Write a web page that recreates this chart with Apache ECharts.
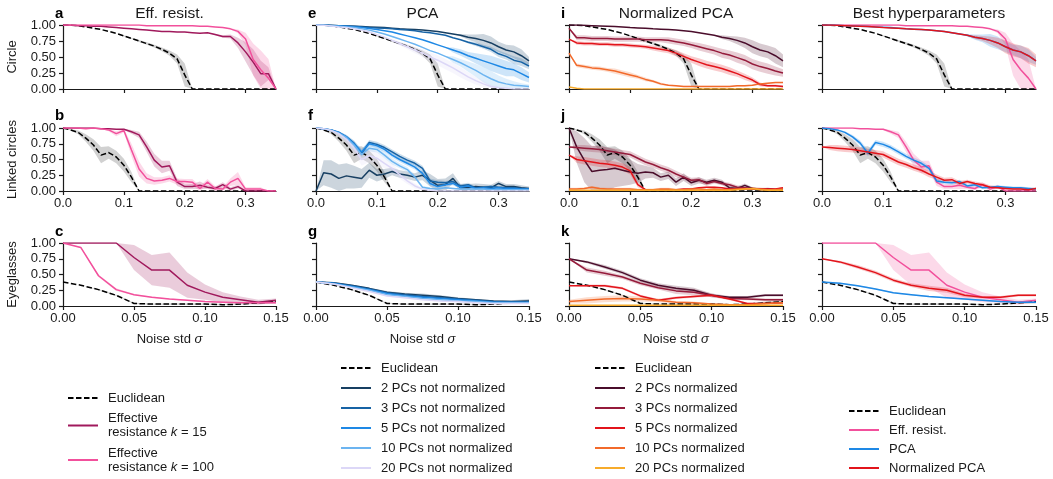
<!DOCTYPE html>
<html><head><meta charset="utf-8">
<script src="https://cdn.jsdelivr.net/npm/echarts@6/dist/echarts.min.js"></script>
<style>html,body{margin:0;padding:0;background:#fff}#c{width:1053px;height:479px}</style>
</head><body><div id="c"></div>
<script>
// ---------- noise levels & ticks ----------
const sigmaWide = [0,0.0125,0.025,0.0375,0.05,0.0625,0.075,0.0875,0.1,0.1125,0.125,0.1375,0.15,0.1625,0.175,0.1875,0.2,0.2125,0.225,0.2375,0.25,0.2625,0.275,0.2875,0.3,0.3125,0.325,0.3375,0.35];
const sigmaNarrow = [0,0.0125,0.025,0.0375,0.05,0.0625,0.075,0.0875,0.1,0.1125,0.125,0.1375,0.15];
const xTicksWide = [0,0.1,0.2,0.3];
const xTicksNarrow = [0,0.05,0.1,0.15];
const yTicks = [0,0.25,0.5,0.75,1];
const rowNames = ['Circle','Linked circles','Eyeglasses'];
const colTitles = ['Eff. resist.','PCA','Normalized PCA','Best hyperparameters'];
const panelLetters = [['a','e','i'],['b','f','j'],['c','g','k']];

// ---------- Circle ----------
const circleEuclid   = [1,0.995,0.99,0.97,0.95,0.93,0.9,0.87,0.83,0.79,0.75,0.71,0.67,0.62,0.56,0.47,0.22,0,0,0,0,0,0,0,0,0,0,0,0];
const circleEuclidSd = [0,0,0,0,0,0,0,0,0.01,0.01,0.015,0.02,0.02,0.03,0.04,0.07,0.18,0,0,0,0,0,0,0,0,0,0,0,0];
const circleK15   = [1,1,0.99,0.99,0.98,0.98,0.97,0.96,0.95,0.94,0.93,0.92,0.91,0.9,0.9,0.89,0.89,0.88,0.87,0.88,0.85,0.82,0.82,0.72,0.58,0.42,0.24,0.24,0];
const circleK15Sd = [0,0,0,0,0,0,0,0,0,0,0,0,0,0,0,0,0,0,0,0,0.01,0.02,0.03,0.08,0.15,0.2,0.2,0.1,0];
const circleK100   = [1,1,1,1,1,1,1,1,1,1,1,0.99,0.99,0.99,0.99,0.99,0.99,0.99,0.98,0.98,0.97,0.96,0.94,0.9,0.78,0.46,0.3,0.17,0];
const circleK100Sd = [0,0,0,0,0,0,0,0,0,0,0,0,0,0,0,0,0,0,0,0,0,0,0.01,0.03,0.1,0.25,0.3,0.3,0];
const circlePca2   = [1,1,0.995,0.99,0.985,0.98,0.975,0.97,0.965,0.96,0.95,0.94,0.935,0.93,0.92,0.91,0.9,0.88,0.86,0.84,0.81,0.79,0.76,0.72,0.66,0.61,0.58,0.52,0.44];
const circlePca2Sd = [0,0,0,0,0,0,0,0,0,0,0,0,0,0,0,0,0,0,0,0.02,0.04,0.06,0.1,0.1,0.08,0.08,0.1,0.1,0.06];
const circlePca3   = [1,1,0.995,0.99,0.985,0.98,0.97,0.96,0.955,0.95,0.94,0.93,0.92,0.91,0.89,0.88,0.86,0.84,0.8,0.77,0.73,0.7,0.66,0.62,0.55,0.51,0.45,0.42,0.36];
const circlePca3Sd = [0,0,0,0,0,0,0,0,0,0,0,0,0,0,0,0,0,0,0,0,0.02,0.03,0.03,0.04,0.05,0.05,0.06,0.06,0.05];
const circlePca5   = [1,1,0.99,0.985,0.98,0.97,0.96,0.945,0.93,0.91,0.89,0.86,0.83,0.8,0.77,0.73,0.69,0.65,0.61,0.57,0.52,0.48,0.44,0.4,0.36,0.32,0.3,0.24,0.18];
const circlePca5Sd = [0,0,0,0,0,0,0,0,0,0,0,0,0,0,0,0,0,0,0.04,0.05,0.06,0.08,0.1,0.12,0.12,0.12,0.1,0.1,0.08];
const circlePca10   = [1,1,0.99,0.98,0.97,0.96,0.94,0.92,0.89,0.86,0.82,0.78,0.74,0.7,0.65,0.6,0.56,0.51,0.46,0.41,0.35,0.29,0.22,0.16,0.11,0.08,0.06,0.05,0.04];
const circlePca10Sd = [0,0,0,0,0,0,0,0,0,0,0,0,0,0,0,0,0,0,0.05,0.06,0.08,0.1,0.12,0.12,0.1,0.08,0.06,0.04,0.03];
const circlePca20   = [1,0.995,0.985,0.97,0.96,0.94,0.92,0.89,0.85,0.81,0.76,0.71,0.66,0.61,0.56,0.5,0.45,0.39,0.33,0.26,0.19,0.13,0.08,0.04,0.02,0.01,0,0,0];
const circlePca20Sd = [0,0,0,0,0,0,0,0,0,0,0.02,0.03,0.04,0.05,0.06,0.07,0.08,0.08,0.08,0.08,0.07,0.06,0.05,0.03,0.02,0.01,0,0,0];
const circleNpca2   = [1,1,0.995,0.99,0.985,0.98,0.975,0.97,0.96,0.955,0.95,0.94,0.935,0.93,0.92,0.91,0.9,0.88,0.86,0.84,0.81,0.79,0.76,0.72,0.66,0.61,0.58,0.52,0.44];
const circleNpca2Sd = [0,0,0,0,0,0,0,0,0,0,0,0,0,0,0,0,0,0,0,0,0.03,0.04,0.06,0.08,0.1,0.1,0.1,0.12,0.1];
const circleNpca3   = [0.95,0.8,0.8,0.79,0.79,0.79,0.78,0.78,0.78,0.78,0.77,0.77,0.77,0.76,0.74,0.72,0.69,0.66,0.63,0.6,0.56,0.53,0.49,0.45,0.39,0.35,0.32,0.28,0.25];
const circleNpca3Sd = [0,0.04,0.04,0.04,0.04,0.04,0.04,0.04,0.04,0.04,0.04,0.04,0.04,0.05,0.05,0.05,0.05,0.06,0.06,0.06,0.07,0.07,0.08,0.08,0.08,0.08,0.08,0.07,0.06];
const circleNpca5   = [0.78,0.72,0.71,0.71,0.7,0.7,0.69,0.69,0.68,0.67,0.66,0.64,0.62,0.6,0.56,0.51,0.46,0.42,0.38,0.35,0.32,0.28,0.24,0.19,0.14,0.07,0.05,0.05,0.04];
const circleNpca5Sd = [0,0.03,0.03,0.03,0.03,0.03,0.03,0.03,0.03,0.03,0.03,0.04,0.04,0.04,0.05,0.05,0.05,0.06,0.06,0.06,0.06,0.06,0.05,0.05,0.04,0.03,0.02,0.02,0.02];
const circleNpca10   = [0.56,0.37,0.35,0.33,0.32,0.3,0.28,0.25,0.22,0.19,0.15,0.12,0.08,0.06,0.05,0.04,0.04,0.04,0.04,0.04,0.04,0.04,0.05,0.05,0.06,0.08,0.09,0.1,0.1];
const circleNpca10Sd = [0,0.03,0.03,0.03,0.03,0.03,0.04,0.04,0.04,0.03,0.03,0.02,0.02,0.01,0.01,0.01,0.01,0.01,0.01,0.01,0.01,0.01,0.01,0.01,0.01,0.01,0.01,0.01,0.01];
const circleNpca20   = [0.03,0.01,0,0,0,0,0,0,0,0,0,0,0,0,0,0,0,0,0,0,0,0,0,0,0,0,0,0,0];

// ---------- Linked circles ----------
const linkedEuclid   = [1,0.97,0.93,0.84,0.73,0.57,0.61,0.54,0.41,0.22,0,0,0,0,0,0,0,0,0,0,0,0,0,0,0,0,0,0,0];
const linkedEuclidSd = [0,0.01,0.03,0.06,0.09,0.13,0.1,0.1,0.1,0.08,0,0,0,0,0,0,0,0,0,0,0,0,0,0,0,0,0,0,0];
const linkedK15   = [1,1,1,1,1,0.99,0.99,0.98,0.98,0.94,0.89,0.7,0.49,0.38,0.4,0.14,0.07,0.07,0.09,0.06,0.04,0.1,0.03,0.07,0,0,0,0,0];
const linkedK15Sd = [0,0,0,0,0,0,0,0,0.01,0.03,0.05,0.08,0.1,0.1,0.08,0.06,0.04,0.04,0.06,0.03,0.03,0.04,0.03,0.03,0,0,0,0,0];
const linkedK100   = [1,1,1,0.99,1,0.99,0.97,0.91,0.96,0.65,0.35,0.2,0.16,0.17,0.2,0.15,0.15,0.14,0.04,0.14,0.04,0.03,0.14,0.2,0.03,0.03,0.03,0,0];
const linkedK100Sd = [0,0,0,0,0,0,0.02,0.04,0.03,0.1,0.12,0.08,0.06,0.05,0.05,0.05,0.04,0.05,0.04,0.05,0.04,0.03,0.06,0.1,0.03,0.03,0.03,0,0];
const linkedPca2   = [0,0.29,0.27,0.2,0.24,0.22,0.2,0.33,0.25,0.27,0.31,0.27,0.25,0.22,0.25,0.17,0.09,0.1,0.2,0.05,0.05,0.07,0.06,0.05,0.12,0.07,0.07,0.05,0.04];
const linkedPca2Sd = [0,0.2,0.22,0.22,0.2,0.18,0.15,0.12,0.1,0.08,0.06,0.06,0.06,0.06,0.08,0.1,0.1,0.1,0.08,0.06,0.06,0.05,0.05,0.05,0.04,0.04,0.04,0.04,0.03];
const linkedPca3   = [1,0.99,0.97,0.93,0.86,0.76,0.6,0.77,0.74,0.69,0.62,0.55,0.49,0.44,0.36,0.16,0.14,0.13,0.15,0.08,0.1,0.05,0.06,0.07,0.06,0.05,0.05,0.04,0.03];
const linkedPca3Sd = [0,0,0.01,0.02,0.03,0.04,0.05,0.04,0.04,0.04,0.04,0.04,0.04,0.04,0.04,0.04,0.03,0.03,0.03,0.03,0.03,0.02,0.02,0.02,0.02,0.02,0.02,0.02,0.02];
const linkedPca5   = [1,0.99,0.97,0.93,0.86,0.75,0.62,0.75,0.72,0.66,0.57,0.5,0.44,0.38,0.28,0.12,0.07,0.1,0.12,0.06,0.08,0.04,0.05,0.04,0.05,0.04,0.04,0.03,0.03];
const linkedPca5Sd = [0,0,0.01,0.02,0.03,0.04,0.05,0.04,0.04,0.04,0.04,0.04,0.04,0.04,0.04,0.04,0.03,0.03,0.03,0.03,0.03,0.02,0.02,0.02,0.02,0.02,0.02,0.02,0.02];
const linkedPca10   = [1,0.99,0.96,0.92,0.85,0.73,0.58,0.68,0.66,0.57,0.47,0.4,0.34,0.22,0.06,0.04,0.03,0.05,0.04,0.03,0.03,0.03,0.03,0.02,0.02,0.02,0.02,0.02,0.02];
const linkedPca10Sd = [0,0,0.01,0.02,0.03,0.04,0.05,0.05,0.05,0.05,0.05,0.04,0.04,0.03,0.02,0.02,0.01,0.01,0.01,0.01,0.01,0.01,0.01,0.01,0.01,0.01,0.01,0.01,0.01];
const linkedPca20   = [1,0.99,0.96,0.91,0.82,0.68,0.5,0.56,0.52,0.44,0.36,0.26,0.16,0.08,0.03,0.01,0,0,0,0,0,0,0,0,0,0,0,0,0];
const linkedPca20Sd = [0,0,0.02,0.04,0.06,0.08,0.1,0.1,0.1,0.08,0.07,0.06,0.05,0.04,0.02,0.01,0,0,0,0,0,0,0,0,0,0,0,0,0];
const linkedNpca2   = [1,0.7,0.49,0.31,0.33,0.34,0.36,0.33,0.3,0.28,0.3,0.29,0.22,0.25,0.14,0.22,0.13,0.17,0.14,0.17,0.14,0.05,0.04,0.09,0.04,0.02,0.03,0.02,0.02];
const linkedNpca2Sd = [0,0.25,0.35,0.4,0.4,0.35,0.3,0.25,0.2,0.15,0.1,0.08,0.06,0.06,0.06,0.06,0.05,0.05,0.04,0.04,0.04,0.03,0.03,0.03,0.02,0.02,0.02,0.02,0.02];
const linkedNpca3   = [0.7,0.69,0.68,0.67,0.66,0.64,0.62,0.6,0.58,0.52,0.46,0.42,0.37,0.33,0.27,0.22,0.17,0.18,0.12,0.15,0.12,0.1,0.06,0.05,0.04,0.03,0.03,0.02,0.04];
const linkedNpca3Sd = [0,0.04,0.05,0.05,0.05,0.05,0.05,0.05,0.05,0.05,0.05,0.05,0.05,0.05,0.05,0.04,0.04,0.04,0.04,0.03,0.03,0.03,0.03,0.02,0.02,0.02,0.02,0.02,0.02];
const linkedNpca5   = [0.57,0.5,0.48,0.46,0.44,0.43,0.41,0.38,0.32,0.1,0.02,0.02,0.02,0.02,0.02,0.03,0.03,0.05,0.06,0.06,0.05,0.03,0.03,0.04,0.03,0.03,0.03,0.03,0.05];
const linkedNpca5Sd = [0,0.05,0.06,0.06,0.06,0.06,0.06,0.06,0.06,0.04,0.01,0,0,0,0,0,0,0.01,0.01,0.01,0.01,0.01,0.01,0.01,0.01,0.01,0.01,0.01,0.01];
const linkedNpca10   = [0.03,0.03,0.04,0.06,0.04,0.03,0.03,0.03,0.03,0.02,0.02,0.02,0.03,0.03,0.02,0.02,0.03,0.03,0.02,0.03,0.02,0.02,0.03,0.03,0.04,0.03,0.02,0.02,0.03];
const linkedNpca10Sd = [0.02,0.02,0.02,0.02,0.02,0.02,0.02,0.02,0.02,0.02,0.02,0.02,0.02,0.02,0.02,0.02,0.02,0.02,0.02,0.02,0.02,0.02,0.02,0.02,0.02,0.02,0.02,0.02,0.02];
const linkedNpca20   = [0.01,0.01,0.01,0.01,0.01,0.01,0.01,0.01,0.01,0.01,0.01,0.01,0.01,0.01,0.01,0.01,0.01,0.01,0.01,0.01,0.01,0.01,0.02,0.03,0.04,0.02,0.01,0.01,0.01];

// ---------- Eyeglasses ----------
const eyeEuclid   = [0.38,0.33,0.26,0.17,0.04,0.03,0.03,0.03,0.03,0.02,0.03,0.05,0.07];
const eyeEuclidSd = [0,0,0.01,0.01,0.01,0.01,0.015,0.015,0.015,0.01,0.01,0.02,0.03];
const eyeK15   = [1,1,1,1,0.77,0.57,0.57,0.33,0.22,0.14,0.1,0.06,0.09];
const eyeK15Sd = [0,0,0,0,0.2,0.24,0.28,0.2,0.12,0.08,0.05,0.04,0.03];
const eyeK100   = [1,0.93,0.48,0.26,0.18,0.14,0.11,0.09,0.07,0.06,0.05,0.05,0.05];
const eyeK100Sd = [0,0.01,0.02,0.02,0.01,0.01,0.01,0.01,0.01,0.01,0.01,0.01,0.01];
const eyePca2   = [0.38,0.37,0.33,0.28,0.22,0.19,0.17,0.15,0.12,0.1,0.08,0.07,0.08];
const eyePca2Sd = [0,0.01,0.01,0.01,0.02,0.02,0.03,0.02,0.02,0.01,0.01,0.02,0.03];
const eyePca3   = [0.38,0.36,0.32,0.27,0.21,0.18,0.15,0.13,0.11,0.09,0.07,0.06,0.06];
const eyePca5   = [0.38,0.36,0.31,0.26,0.2,0.16,0.14,0.12,0.1,0.08,0.06,0.06,0.06];
const eyePca10  = [0.38,0.35,0.3,0.25,0.18,0.15,0.12,0.1,0.08,0.07,0.05,0.05,0.05];
const eyePca20  = [0.38,0.35,0.29,0.23,0.16,0.13,0.1,0.08,0.07,0.05,0.04,0.04,0.04];
const eyePcaSd  = [0,0.01,0.01,0.01,0.01,0.01,0.01,0.01,0.01,0.01,0.01,0.01,0.01];
const eyeNpca2   = [0.75,0.7,0.62,0.53,0.41,0.33,0.28,0.25,0.17,0.14,0.14,0.17,0.17];
const eyeNpca2Sd = [0,0.02,0.03,0.03,0.03,0.03,0.04,0.04,0.03,0.02,0.02,0.02,0.02];
const eyeNpca3   = [0.75,0.57,0.52,0.46,0.36,0.29,0.24,0.22,0.17,0.12,0.11,0.1,0.1];
const eyeNpca3Sd = [0,0.04,0.04,0.03,0.03,0.03,0.05,0.05,0.03,0.02,0.02,0.02,0.02];
const eyeNpca5   = [0.32,0.32,0.32,0.28,0.16,0.09,0.13,0.15,0.17,0.11,0.04,0.04,0.05];
const eyeNpca5Sd = [0,0.02,0.02,0.02,0.02,0.02,0.02,0.02,0.02,0.02,0.01,0.01,0.01];
const eyeNpca10   = [0.07,0.09,0.11,0.12,0.11,0.09,0.06,0.05,0.03,0.02,0.02,0.04,0.05];
const eyeNpca10Sd = [0.03,0.05,0.05,0.05,0.04,0.03,0.02,0.02,0.01,0.01,0.01,0.02,0.02];
const eyeNpca20   = [0.01,0.01,0.01,0.01,0.01,0.01,0.01,0.01,0.01,0.01,0.01,0.01,0.01];

// ---------- styling ----------
const FONT = '"Liberation Sans", Arial, Helvetica, sans-serif';
const INK = '#1a1a1a';
const COL = {
  euclid:'#000000', k15:'#a0195c', k100:'#f2509c',
  pca:['#173f62','#1763a5','#1e88e5','#6cb4f0','#dcd7f7'],
  npca:['#4a0d2b','#951b3b','#e2141b','#f26a2b','#f7ab2b']
};
const colLeft = [63,316,569,822], colWidth = [213,213,214,214];
const rowTop = [25,128,243], rowHeight = [64,63,63];

const N = {
  e:'Euclidean', k15:'Effective resistance k = 15', k100:'Effective resistance k = 100',
  pca:['2 PCs not normalized','3 PCs not normalized','5 PCs not normalized','10 PCs not normalized','20 PCs not normalized'],
  npca:['2 PCs normalized','3 PCs normalized','5 PCs normalized','10 PCs normalized','20 PCs normalized'],
  bEff:'Eff. resist.', bPca:'PCA', bNpca:'Normalized PCA'
};

function E(v,s){return {n:N.e,c:COL.euclid,v,s,dash:true,band:'#7a7a7a',bo:0.35};}
function L(n,c,v,s){return {n,c,v,s,band:c,bo:0.22};}

const rows = [
 {sigma:sigmaWide, panels:[
   [E(circleEuclid,circleEuclidSd), L(N.k15,COL.k15,circleK15,circleK15Sd), L(N.k100,COL.k100,circleK100,circleK100Sd)],
   [E(circleEuclid,circleEuclidSd), L(N.pca[0],COL.pca[0],circlePca2,circlePca2Sd), L(N.pca[1],COL.pca[1],circlePca3,circlePca3Sd), L(N.pca[2],COL.pca[2],circlePca5,circlePca5Sd), L(N.pca[3],COL.pca[3],circlePca10,circlePca10Sd), L(N.pca[4],COL.pca[4],circlePca20,circlePca20Sd)],
   [E(circleEuclid,circleEuclidSd), L(N.npca[0],COL.npca[0],circleNpca2,circleNpca2Sd), L(N.npca[1],COL.npca[1],circleNpca3,circleNpca3Sd), L(N.npca[2],COL.npca[2],circleNpca5,circleNpca5Sd), L(N.npca[3],COL.npca[3],circleNpca10,circleNpca10Sd), L(N.npca[4],COL.npca[4],circleNpca20,null)],
   [E(circleEuclid,circleEuclidSd), L(N.bEff,COL.k100,circleK100,circleK100Sd), L(N.bPca,COL.pca[2],circlePca2,circlePca2Sd), L(N.bNpca,COL.npca[2],circleNpca2,circleNpca2Sd)]
 ]},
 {sigma:sigmaWide, panels:[
   [E(linkedEuclid,linkedEuclidSd), L(N.k15,COL.k15,linkedK15,linkedK15Sd), L(N.k100,COL.k100,linkedK100,linkedK100Sd)],
   [E(linkedEuclid,linkedEuclidSd), L(N.pca[0],COL.pca[0],linkedPca2,linkedPca2Sd), L(N.pca[1],COL.pca[1],linkedPca3,linkedPca3Sd), L(N.pca[2],COL.pca[2],linkedPca5,linkedPca5Sd), L(N.pca[3],COL.pca[3],linkedPca10,linkedPca10Sd), L(N.pca[4],COL.pca[4],linkedPca20,linkedPca20Sd)],
   [E(linkedEuclid,linkedEuclidSd), L(N.npca[0],COL.npca[0],linkedNpca2,linkedNpca2Sd), L(N.npca[1],COL.npca[1],linkedNpca3,linkedNpca3Sd), L(N.npca[2],COL.npca[2],linkedNpca5,linkedNpca5Sd), L(N.npca[3],COL.npca[3],linkedNpca10,linkedNpca10Sd), L(N.npca[4],COL.npca[4],linkedNpca20,null)],
   [E(linkedEuclid,linkedEuclidSd), L(N.bEff,COL.k100,linkedK15,linkedK15Sd), L(N.bPca,COL.pca[2],linkedPca3,linkedPca3Sd), L(N.bNpca,COL.npca[2],linkedNpca3,linkedNpca3Sd)]
 ]},
 {sigma:sigmaNarrow, panels:[
   [E(eyeEuclid,eyeEuclidSd), L(N.k15,COL.k15,eyeK15,eyeK15Sd), L(N.k100,COL.k100,eyeK100,eyeK100Sd)],
   [E(eyeEuclid,eyeEuclidSd), L(N.pca[0],COL.pca[0],eyePca2,eyePca2Sd), L(N.pca[1],COL.pca[1],eyePca3,eyePcaSd), L(N.pca[2],COL.pca[2],eyePca5,eyePcaSd), L(N.pca[3],COL.pca[3],eyePca10,eyePcaSd), L(N.pca[4],COL.pca[4],eyePca20,eyePcaSd)],
   [E(eyeEuclid,eyeEuclidSd), L(N.npca[0],COL.npca[0],eyeNpca2,eyeNpca2Sd), L(N.npca[1],COL.npca[1],eyeNpca3,eyeNpca3Sd), L(N.npca[2],COL.npca[2],eyeNpca5,eyeNpca5Sd), L(N.npca[3],COL.npca[3],eyeNpca10,eyeNpca10Sd), L(N.npca[4],COL.npca[4],eyeNpca20,null)],
   [E(eyeEuclid,eyeEuclidSd), L(N.bEff,COL.k100,eyeK15,eyeK15Sd), L(N.bPca,COL.pca[2],eyePca3,eyePcaSd), L(N.bNpca,COL.npca[2],eyeNpca2,eyeNpca2Sd)]
 ]}
];

const grid=[], xAxis=[], yAxis=[], series=[], graphic=[];
const axisCommon = {
  axisLine:{show:true,lineStyle:{color:INK,width:1.2}},
  axisTick:{show:true,inside:false,length:4,lineStyle:{color:INK,width:1.2}},
  splitLine:{show:false}
};

function bandSeries(idx, sigma, v, s, color, opacity){
  const pts = sigma.map((x,i)=>[x, Math.max(0, v[i]-s[i]), Math.min(1, v[i]+s[i])]);
  return {type:'custom', xAxisIndex:idx, yAxisIndex:idx, silent:true, z:1, animation:false,
    data:pts, encode:{x:0,y:[1,2]},
    renderItem:(params, api)=>{
      if (params.dataIndex !== 0) return null;
      const up = pts.map(p=>api.coord([p[0],p[2]]));
      const lo = pts.map(p=>api.coord([p[0],p[1]])).reverse();
      return {type:'polygon', shape:{points:up.concat(lo)}, style:{fill:color, opacity:opacity, stroke:null}};
    }};
}

rows.forEach((row, r)=>{
  row.panels.forEach((items, c)=>{
    const idx = r*4+c;
    grid.push({left:colLeft[c], top:rowTop[r], width:colWidth[c], height:rowHeight[r], containLabel:false});
    const wide = row.sigma === sigmaWide;
    const xt = wide ? xTicksWide : xTicksNarrow;
    xAxis.push(Object.assign({}, axisCommon, {
      type:'value', gridIndex:idx, min:0, max: wide ? 0.35 : 0.15,
      axisTick:Object.assign({}, axisCommon.axisTick, {customValues:xt}),
      axisLabel:{show: r>0, customValues:xt, color:INK, fontSize:13, fontFamily:FONT, margin:6,
        formatter:(v)=> wide ? v.toFixed(1) : v.toFixed(2)}
    }));
    yAxis.push(Object.assign({}, axisCommon, {
      type:'value', gridIndex:idx, min:0, max:1,
      axisTick:Object.assign({}, axisCommon.axisTick, {customValues:yTicks}),
      axisLabel:{show: c===0, customValues:yTicks, color:INK, fontSize:13, fontFamily:FONT, margin:7,
        formatter:(v)=>v.toFixed(2)}
    }));
    items.forEach(it=>{
      if (it.s) series.push(bandSeries(idx, row.sigma, it.v, it.s, it.band, it.bo));
    });
    items.forEach((it,k)=>{
      series.push({type:'line', name:it.n, xAxisIndex:idx, yAxisIndex:idx, z:2+k, silent:true, animation:false,
        symbol:'none', showSymbol:false,
        data: row.sigma.map((x,i)=>[x, it.v[i]]),
        lineStyle:{color:it.c, width:1.5, type: it.dash ? [5.5,2.5] : 'solid'},
        itemStyle:{color:it.c}});
    });
  });
});

// titles, letters, row labels, x labels
colTitles.forEach((t,c)=>graphic.push({type:'text', x:colLeft[c]+colWidth[c]/2, y:14,
  style:{text:t, fill:INK, fontSize:15.5, fontFamily:FONT, align:'center', verticalAlign:'middle', textAlign:'center', textVerticalAlign:'middle'}}));
const letterY = [14,116,232];
panelLetters.forEach((row,r)=>row.forEach((l,c)=>graphic.push({type:'text', x:colLeft[c]-8, y:letterY[r],
  style:{text:l, fill:'#000', fontSize:15, fontWeight:'bold', fontFamily:FONT, align:'left', verticalAlign:'middle', textAlign:'left', textVerticalAlign:'middle'}})));
rowNames.forEach((t,r)=>graphic.push({type:'text', x:12, y:rowTop[r]+rowHeight[r]/2, rotation:Math.PI/2,
  style:{text:t, fill:INK, fontSize:13, fontFamily:FONT, align:'center', verticalAlign:'middle', textAlign:'center', textVerticalAlign:'middle'}}));
[0,1,2].forEach(c=>graphic.push({type:'text', x:colLeft[c]+colWidth[c]/2, y:339,
  style:{text:'Noise std {i|σ}', fill:INK, fontSize:13, fontFamily:FONT, align:'center', verticalAlign:'middle', textAlign:'center', textVerticalAlign:'middle',
    rich:{i:{fontStyle:'italic', fontSize:13, fontFamily:FONT, fill:INK}}}}));

const legendBase = {orient:'vertical', itemWidth:30, itemHeight:14, padding:0, selectedMode:false,
  itemStyle:{opacity:0, color:'transparent', borderWidth:0},
  textStyle:{fontSize:13, fontFamily:FONT, color:INK, lineHeight:14, padding:[0,0,0,5],
    rich:{i:{fontStyle:'italic', fontSize:13, fontFamily:FONT, color:INK, lineHeight:14}}},
  formatter:(name)=>{
    if (name===N.k15) return 'Effective\nresistance {i|k} = 15';
    if (name===N.k100) return 'Effective\nresistance {i|k} = 100';
    return name;
  }};
const legend = [
  Object.assign({}, legendBase, {left:67, top:391, data:[N.e]}),
  Object.assign({}, legendBase, {left:67, top:411.5, height:40, data:[N.k15]}),
  Object.assign({}, legendBase, {left:67, top:446, height:40, data:[N.k100]}),
  Object.assign({}, legendBase, {left:340, top:361, itemGap:6, data:[N.e].concat(N.pca)}),
  Object.assign({}, legendBase, {left:594, top:361, itemGap:6, data:[N.e].concat(N.npca)}),
  Object.assign({}, legendBase, {left:848, top:404, itemGap:5, data:[N.e,N.bEff,N.bPca,N.bNpca]})
];

const chart = echarts.init(document.getElementById('c'), null, {renderer:'canvas'});
chart.setOption({animation:false, backgroundColor:'#ffffff', textStyle:{fontFamily:FONT},
  grid, xAxis, yAxis, series, legend, graphic});
</script>
</body></html>
